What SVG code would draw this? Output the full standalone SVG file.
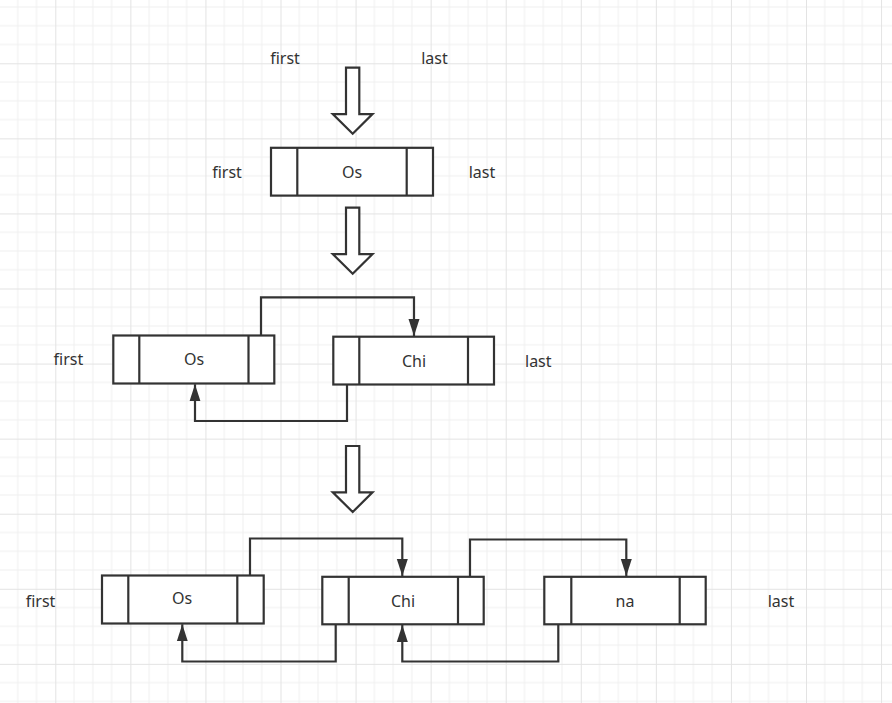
<svg xmlns="http://www.w3.org/2000/svg" width="892" height="703" viewBox="0 0 892 703">
<style>
.box{fill:#fff;stroke:#333;stroke-width:2.2}
.div{stroke:#333;stroke-width:2.2;fill:none}
.big{fill:#fff;stroke:#333;stroke-width:2.2;stroke-linejoin:miter}
.conn{fill:none;stroke:#333;stroke-width:2.2}
text{font-family:"Noto Sans","Open Sans",sans-serif;font-size:16px;fill:#333;text-anchor:middle}
</style>
<defs>
<pattern id="grid" patternUnits="userSpaceOnUse" x="-19.77" y="-11.77" width="75.07" height="75.07">
<path d="M18.77 0V75.07M37.53 0V75.07M56.3 0V75.07M0 18.77H75.07M0 37.53H75.07M0 56.3H75.07" stroke="#f0f0f0" stroke-width="1" fill="none"/>
<path d="M0.5 0V75.07M0 0.5H75.07" stroke="#e3e3e3" stroke-width="1" fill="none"/>
</pattern>
<marker id="ah" markerUnits="userSpaceOnUse" markerWidth="18" markerHeight="12" refX="17" refY="6" orient="auto" viewBox="0 0 18 12">
<path d="M0 0.5L17 6L0 11.5Z" fill="#333"/>
</marker>
<polygon id="hollow" class="big" points="346,0 359.3,0 359.3,46.4 372.5,46.4 352.7,66 332.8,46.4 346,46.4"/>
</defs>
<rect width="892" height="703" fill="#fff"/>
<rect width="892" height="703" fill="url(#grid)"/>

<g id="labels-top">
<text x="285" y="63.5">first</text>
<text x="434.5" y="63.5">last</text>
</g>
<g id="bigarrow1"><use href="#hollow" y="67.7"/></g>
<g id="bigarrow2"><use href="#hollow" y="207.7"/></g>
<g id="bigarrow3"><use href="#hollow" y="446"/></g>

<g id="row1">
<text x="227" y="177.7">first</text>
<text x="482" y="177.7">last</text>
<g id="r1-os">
<rect class="box" x="271" y="147.8" width="162" height="47.8"/>
<path class="div" d="M297.3 147.8V195.6M406.7 147.8V195.6"/>
<text x="352" y="177.7">Os</text>
</g>
</g>

<g id="row2">
<text x="68.4" y="365">first</text>
<text x="538.3" y="366.7">last</text>
<g id="r2-os">
<rect class="box" x="113.3" y="335.5" width="161" height="48"/>
<path class="div" d="M139.3 335.5V383.5M248.5 335.5V383.5"/>
<text x="194" y="365">Os</text>
</g>
<g id="r2-chi">
<rect class="box" x="333.3" y="336.7" width="160.7" height="47.8"/>
<path class="div" d="M359.3 336.7V384.5M468 336.7V384.5"/>
<text x="414" y="366.7">Chi</text>
</g>
</g>

<g id="row3">
<text x="40.5" y="606.7">first</text>
<text x="781" y="606.7">last</text>
<g id="r3-os">
<rect class="box" x="102" y="575.5" width="161.7" height="48"/>
<path class="div" d="M128.3 575.5V623.5M237.3 575.5V623.5"/>
<text x="182" y="604">Os</text>
</g>
<g id="r3-chi">
<rect class="box" x="322.3" y="576.8" width="161.4" height="47.5"/>
<path class="div" d="M348.7 576.8V624.3M458 576.8V624.3"/>
<text x="403" y="606.7">Chi</text>
</g>
<g id="r3-na">
<rect class="box" x="544.3" y="576.8" width="161.4" height="47.5"/>
<path class="div" d="M571.3 576.8V624.3M679.7 576.8V624.3"/>
<text x="625" y="606.7">na</text>
</g>
</g>

<g id="connectors">
<path class="conn" marker-end="url(#ah)" d="M261 335.5V297.3H414V336"/>
<path class="conn" marker-end="url(#ah)" d="M347 384.5V421H195V384.3"/>
<path class="conn" marker-end="url(#ah)" d="M250 575.5V538.5H402.3V576"/>
<path class="conn" marker-end="url(#ah)" d="M335.7 624.3V661.5H182.3V624.3"/>
<path class="conn" marker-end="url(#ah)" d="M470 576.8V539.5H626.3V576"/>
<path class="conn" marker-end="url(#ah)" d="M558.3 624.3V661.5H402.3V625"/>
</g>
</svg>
